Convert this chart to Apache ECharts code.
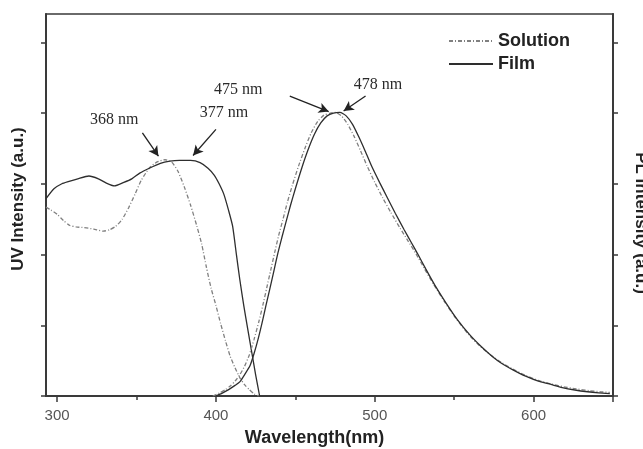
<!DOCTYPE html>
<html>
<head>
<meta charset="utf-8">
<script src="https://cdn.jsdelivr.net/npm/echarts@6/dist/echarts.min.js"></script>
<style>
  html, body { margin: 0; padding: 0; background: #fff; }
  #chart { width: 643px; height: 449px; }
</style>
</head>
<body>
<div id="chart"></div>
<script>
// UV absorption, film (solid)
var filmUvX = [293, 298, 303, 307, 313, 320, 326, 331, 336, 342, 347, 352, 358, 365, 371, 377, 384, 390, 395, 399, 402, 405, 408, 410.5, 413, 415, 417.5, 420, 423, 425, 427.5];
var filmUvY = [2.79, 2.93, 3.00, 3.03, 3.07, 3.11, 3.07, 3.01, 2.97, 3.02, 3.07, 3.15, 3.22, 3.29, 3.32, 3.33, 3.33, 3.30, 3.22, 3.12, 3.00, 2.85, 2.62, 2.40, 1.98, 1.65, 1.28, 0.95, 0.56, 0.30, 0];

// UV absorption, solution (dashed)
var solUvX = [293, 296, 300, 304, 308, 312, 317, 323, 329, 333, 337, 341, 345, 349, 353, 358, 363, 368, 372, 376, 380, 384, 388, 391, 394, 397, 400, 403, 406, 409, 412, 415, 418, 421, 424, 427];
var solUvY = [2.67, 2.63, 2.57, 2.48, 2.41, 2.39, 2.38, 2.36, 2.33, 2.35, 2.40, 2.50, 2.66, 2.85, 3.05, 3.22, 3.31, 3.34, 3.31, 3.18, 2.96, 2.70, 2.40, 2.15, 1.82, 1.52, 1.28, 1.02, 0.78, 0.56, 0.40, 0.26, 0.16, 0.09, 0.03, 0];

// PL emission, film (solid)
var filmPlX = [400, 404, 408, 412, 415, 418, 421.5, 424, 426.5, 429, 431.5, 434, 436.5, 439, 441.5, 444, 447, 450, 454, 458, 462, 466, 470, 474, 478, 482, 486, 490, 494, 498, 503, 508, 513, 518.5, 523, 527, 532, 538, 545, 552, 560, 567, 574, 580, 587, 595, 603, 610, 618, 626, 634, 641, 648];
var filmPlY = [0, 0.04, 0.09, 0.15, 0.20, 0.30, 0.43, 0.60, 0.80, 1.03, 1.28, 1.52, 1.77, 2.02, 2.24, 2.45, 2.70, 2.93, 3.22, 3.48, 3.70, 3.86, 3.96, 4.00, 4.01, 3.96, 3.84, 3.66, 3.46, 3.25, 3.02, 2.80, 2.58, 2.35, 2.17, 2.01, 1.80, 1.56, 1.31, 1.08, 0.86, 0.70, 0.56, 0.46, 0.37, 0.28, 0.21, 0.17, 0.12, 0.085, 0.06, 0.045, 0.035];

// PL emission, solution (dashed)
var solPlX = [398, 402, 406, 409, 412, 415, 418, 421, 424, 427, 429.5, 432, 434.5, 437, 439.5, 442, 445, 448, 452, 456, 460, 464, 468, 472, 475, 479, 483, 487, 491, 495, 500, 505, 510, 516, 521, 526, 531, 537, 544, 551, 559, 566, 573, 580, 587, 595, 603, 611, 619, 627, 635, 642, 648];
var solPlY = [0, 0.04, 0.09, 0.14, 0.21, 0.30, 0.42, 0.58, 0.80, 1.05, 1.28, 1.53, 1.78, 2.03, 2.27, 2.48, 2.74, 2.97, 3.25, 3.50, 3.72, 3.88, 3.97, 4.00, 4.01, 3.96, 3.84, 3.67, 3.47, 3.26, 3.02, 2.80, 2.60, 2.37, 2.19, 2.01, 1.81, 1.58, 1.33, 1.10, 0.87, 0.71, 0.58, 0.47, 0.38, 0.29, 0.22, 0.17, 0.13, 0.10, 0.075, 0.06, 0.05];

var majorTicks = [300, 400, 500, 600, 650];
var minorTicks = [350, 450, 550];
var tickLabels = [300, 400, 500, 600];
var yTicks = [0, 1, 2, 3, 4, 5];

// peak annotations: text position and arrow (from -> to)
var peakLabels = [
  { name: '368 nm', at: [336, 3.9] },
  { name: '377 nm', at: [405, 4.0] },
  { name: '475 nm', at: [414, 4.33] },
  { name: '478 nm', at: [502, 4.4] }
];
var peakArrows = [
  [[353.7, 3.72], [363.8, 3.39]],
  [[400, 3.77], [385.6, 3.40]],
  [[446.5, 4.24], [471, 4.02]],
  [[494.2, 4.24], [480.4, 4.03]]
];

function pairs(xs, ys) {
  return xs.map(function (x, i) { return [x, ys[i]]; });
}

var axisColor = '#3a3a3a';
var titleFont = { fontFamily: 'Liberation Sans', fontWeight: 'bold', color: '#222' };
var solStyle = { color: '#808080', width: 1.3, type: [4, 2, 1, 2] };
var filmStyle = { color: '#2e2e2e', width: 1.3, type: 'solid' };

var chart = echarts.init(document.getElementById('chart'));
chart.setOption({
  animation: false,
  grid: {
    left: 46, right: 30, top: 14, bottom: 53,
    outerBoundsMode: 'none',
    containLabel: false,
    show: true, borderColor: axisColor, borderWidth: 1.5
  },
  legend: {
    orient: 'vertical',
    left: 443,
    top: 27,
    itemWidth: 44,
    itemHeight: 16,
    itemGap: 5,
    data: ['Solution', 'Film'],
    itemStyle: { opacity: 0 },
    textStyle: Object.assign({ fontSize: 18 }, titleFont)
  },
  xAxis: [
    {
      type: 'value',
      min: 293,
      max: 650,
      name: 'Wavelength(nm)',
      nameLocation: 'middle',
      nameGap: 33,
      nameTextStyle: Object.assign({ fontSize: 18, padding: [0, 30, 0, 0] }, titleFont),
      axisLine: { show: true, lineStyle: { color: axisColor, width: 2 } },
      axisTick: { show: true, length: 6, customValues: majorTicks, lineStyle: { color: axisColor, width: 1.5 } },
      axisLabel: { customValues: tickLabels, margin: 12, fontFamily: 'Liberation Sans', fontSize: 15, color: '#555' },
      splitLine: { show: false }
    },
    {
      type: 'value',
      min: 293,
      max: 650,
      position: 'bottom',
      axisLine: { show: false },
      axisTick: { show: true, length: 4, customValues: minorTicks, lineStyle: { color: axisColor, width: 1.5 } },
      axisLabel: { show: false },
      splitLine: { show: false }
    }
  ],
  yAxis: [
    {
      type: 'value',
      min: 0,
      max: 5.4,
      position: 'left',
      name: 'UV Intensity (a.u.)',
      nameLocation: 'middle',
      nameRotate: 90,
      nameGap: 19,
      nameTextStyle: Object.assign({ fontSize: 17, padding: [0, 0, 0, 12] }, titleFont),
      axisLine: { show: true, lineStyle: { color: axisColor, width: 2 } },
      axisTick: { show: true, length: 5, customValues: yTicks, lineStyle: { color: axisColor, width: 1.5 } },
      axisLabel: { show: false },
      splitLine: { show: false }
    },
    {
      type: 'value',
      min: 0,
      max: 5.4,
      position: 'right',
      name: 'PL Intensity (a.u.)',
      nameLocation: 'middle',
      nameRotate: -90,
      nameGap: 19,
      nameTextStyle: Object.assign({ fontSize: 17, padding: [0, 0, 0, 36] }, titleFont),
      axisLine: { show: true, lineStyle: { color: axisColor, width: 2 } },
      axisTick: { show: true, length: 5, customValues: yTicks, lineStyle: { color: axisColor, width: 1.5 } },
      axisLabel: { show: false },
      splitLine: { show: false }
    }
  ],
  series: [
    {
      name: 'Solution', type: 'line', yAxisIndex: 0, symbol: 'none', smooth: 0.2,
      lineStyle: solStyle, itemStyle: { color: solStyle.color },
      data: pairs(solUvX, solUvY)
    },
    {
      name: 'Film', type: 'line', yAxisIndex: 0, symbol: 'none', smooth: 0.2,
      lineStyle: filmStyle, itemStyle: { color: filmStyle.color },
      data: pairs(filmUvX, filmUvY),
      markLine: {
        silent: true,
        symbol: ['none', 'arrow'],
        symbolSize: [8, 10],
        label: { show: false },
        lineStyle: { color: '#222', width: 1.3, type: 'solid' },
        data: peakArrows.map(function (a) {
          return [{ coord: a[0] }, { coord: a[1] }];
        })
      },
      markPoint: {
        silent: true,
        symbol: 'rect',
        symbolSize: 1,
        itemStyle: { color: 'rgba(0,0,0,0)' },
        label: {
          show: true, position: 'inside', formatter: '{b}',
          fontFamily: 'Liberation Serif', fontSize: 16, color: '#2a2a2a'
        },
        data: peakLabels.map(function (p) {
          return { name: p.name, coord: p.at };
        })
      }
    },
    {
      name: 'Solution', type: 'line', yAxisIndex: 1, symbol: 'none', smooth: 0.2,
      lineStyle: solStyle, itemStyle: { color: solStyle.color },
      data: pairs(solPlX, solPlY)
    },
    {
      name: 'Film', type: 'line', yAxisIndex: 1, symbol: 'none', smooth: 0.2,
      lineStyle: filmStyle, itemStyle: { color: filmStyle.color },
      data: pairs(filmPlX, filmPlY)
    }
  ]
});
</script>
</body>
</html>
